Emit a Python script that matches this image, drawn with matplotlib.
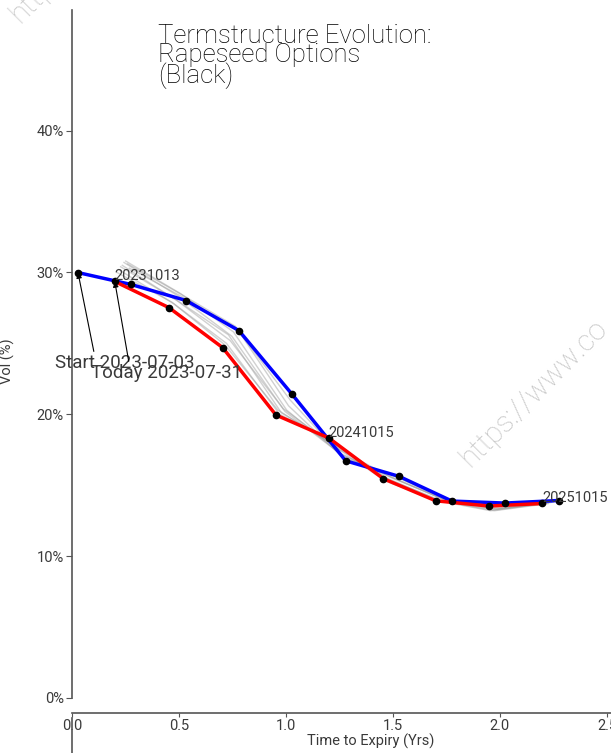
import numpy as np
import matplotlib
matplotlib.use("Agg")
import matplotlib.pyplot as plt
from matplotlib.lines import Line2D

plt.rcParams['font.family'] = ['Roboto', 'DejaVu Sans']

# start curve (2023-07-03), time to expiry in years, vol in %
start_tte = [0.028, 0.276, 0.533, 0.780, 1.028, 1.279, 1.529, 1.776, 2.023, 2.274]
start_vol = [29.99, 29.15, 28.02, 25.90, 21.42, 16.72, 15.62, 13.88, 13.74, 13.92]

# today curve (2023-07-31)
today_tte = [0.200, 0.453, 0.704, 0.953, 1.200, 1.455, 1.700, 1.949, 2.198]
today_vol = [29.36, 27.52, 24.70, 19.95, 18.33, 15.46, 13.90, 13.53, 13.71]
today_expiries = ["20231013", "", "", "", "20241015", "", "", "", "20251015"]

# days in between (offset from start in years) and their vols
mid_offsets = [0.008, 0.016, 0.025, 0.033, 0.041, 0.049, 0.058, 0.066]
mid_vols = [
    [30.3, 28.2, 26.0, 21.0, 16.9, 15.6, 13.9, 13.6, 13.9],
    [30.6, 28.4, 26.2, 20.6, 17.0, 15.6, 13.9, 13.5, 13.9],
    [30.8, 28.5, 25.8, 20.3, 17.2, 15.5, 13.9, 13.4, 13.8],
    [30.7, 28.3, 25.5, 20.2, 17.3, 15.5, 14.0, 13.3, 13.8],
    [30.5, 28.0, 25.2, 20.4, 17.6, 15.6, 14.0, 13.3, 13.8],
    [30.4, 28.1, 25.6, 20.1, 17.8, 15.4, 13.9, 13.2, 13.7],
    [30.2, 27.8, 25.0, 20.0, 18.0, 15.5, 13.9, 13.3, 13.7],
    [30.0, 27.9, 24.9, 20.3, 17.9, 15.3, 13.9, 13.2, 13.7],
]

yticks = [0, 10, 20, 30, 40]
xticks = [0.0, 0.5, 1.0, 1.5, 2.0, 2.5]

fig = plt.figure(figsize=(6.11, 7.53), dpi=100)
ax = fig.add_axes([72 / 611, 40 / 753, 567 / 611, 703 / 753])

txt = "#3a3a3a"
spine_col = "#555555"

for off, vols in zip(mid_offsets, mid_vols):
    x = np.array(start_tte[1:]) - off
    ax.plot(x, vols, color="#999999", lw=1, alpha=0.45, zorder=1)

ax.plot(start_tte, start_vol, color="blue", lw=2.5, zorder=3)
ax.plot(today_tte, today_vol, color="red", lw=2.5, zorder=4)
ax.plot(start_tte, start_vol, "o", color="black", ms=4.5, zorder=5)
ax.plot(today_tte, today_vol, "o", color="black", ms=4.5, zorder=5)

for x, y, lab in zip(today_tte, today_vol, today_expiries):
    if lab:
        ax.text(x, y + 0.1, lab, fontsize=10.5, color=txt, ha="left", va="baseline", zorder=6)

ax.annotate("Start 2023-07-03", xy=(start_tte[0], start_vol[0]), xytext=(0.248, 23.6),
            fontsize=13.5, color=txt, ha="center", va="center", zorder=7,
            arrowprops=dict(arrowstyle="-|>", color="black", lw=0.8, mutation_scale=8,
                            relpos=(0.28, 1.0), shrinkA=0, shrinkB=0))
ax.annotate("Today 2023-07-31", xy=(today_tte[0], today_vol[0]), xytext=(0.444, 22.9),
            fontsize=13.5, color=txt, ha="center", va="center", zorder=7,
            arrowprops=dict(arrowstyle="-|>", color="black", lw=0.8, mutation_scale=8,
                            relpos=(0.25, 1.0), shrinkA=0, shrinkB=0))

ax.set_xlim(0, 2.65)
ax.set_ylim(-1.06, 48.5)
ax.set_yticks(yticks)
ax.set_yticklabels([f"{v}%" for v in yticks])
ax.set_xticks(xticks)
ax.set_xticklabels([f"{v:.1f}" for v in xticks])

ax.spines["top"].set_visible(False)
ax.spines["right"].set_visible(False)
ax.spines["left"].set_bounds(0, 48.5)
for s in ["left", "bottom"]:
    ax.spines[s].set_color(spine_col)
    ax.spines[s].set_linewidth(1.2)
ax.tick_params(axis="y", direction="out", length=4, color=spine_col, labelsize=10.5,
               labelcolor=txt, pad=2)
ax.tick_params(axis="x", direction="out", length=3, color=spine_col, labelsize=10.5,
               labelcolor=txt, pad=1)

ax.set_ylabel("Vol (%)", fontsize=10.5, color=txt)
ax.yaxis.set_label_coords((15 - 72) / 567, 0.5)
ax.set_xlabel("Time to Expiry (Yrs)", fontsize=10.5, color=txt)
ax.xaxis.set_label_coords((371 - 72) / 567, -21 / 703)

# stub of the axis line below the x-axis
fig.add_artist(Line2D([72 / 611, 72 / 611], [0, 35 / 753], color=spine_col, lw=1.2))

fig.text(158 / 611, 1 - 24 / 753, "Termstructure Evolution:\nRapeseed Options\n(Black)",
         fontsize=18.5, color="black", ha="left", va="top", linespacing=0.76,
         fontweight="light")

# watermarks
fig.text(20 / 611, 1 - 24 / 753, "https://www.co", fontsize=21, color="#c4c4c4",
         rotation=45, rotation_mode="anchor", ha="left", va="baseline", fontweight="light")
fig.text(470 / 611, 1 - 468 / 753, "https://www.co", fontsize=21, color="#c4c4c4",
         rotation=45, rotation_mode="anchor", ha="left", va="baseline", fontweight="light")

fig.savefig("out.png", dpi=100)
